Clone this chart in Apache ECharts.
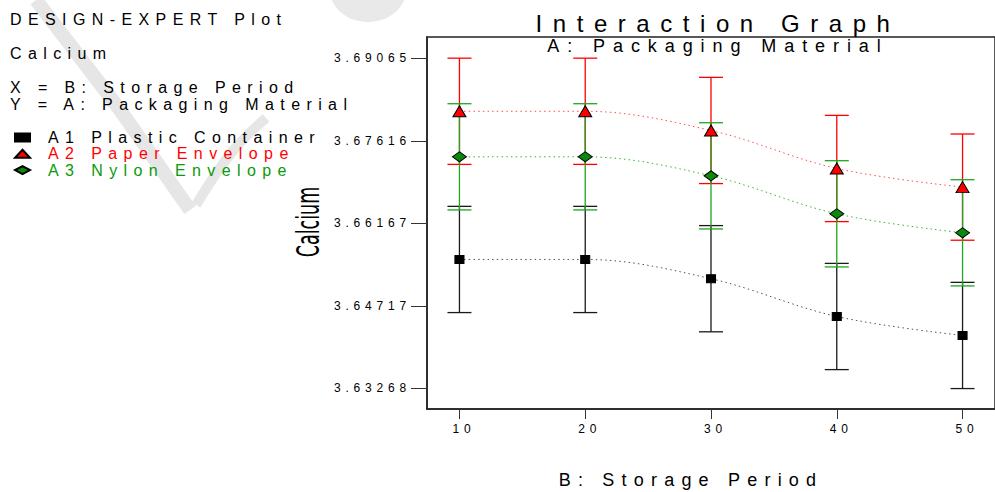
<!DOCTYPE html>
<html>
<head>
<meta charset="utf-8">
<title>Interaction Graph</title>
<script src="https://cdn.jsdelivr.net/npm/echarts@6/dist/echarts.min.js"></script>
<style>
  html, body { margin: 0; padding: 0; background: #fff; }
  #main { width: 995px; height: 492px; }
  /* Design-Expert prints its captions with wide letter spacing */
  #main text { letter-spacing: 0.4em; }
  #main text[style*="Arimo"], #main text[font-family*="Arimo"] { letter-spacing: 0.44em; }
  #main text[style*="Narrow"], #main text[font-family*="Narrow"] { letter-spacing: 0; }
</style>
</head>
<body>
<div id="main"></div>
<script>
// B: Storage Period (x) and Calcium means per packaging material
const storagePeriod = [10, 20, 30, 40, 50]
const plasticContainer = [3.65531, 3.65531, 3.65193, 3.64529, 3.64196]
const paperEnvelope = [3.68134, 3.68134, 3.67797, 3.67129, 3.66802]
const nylonEnvelope = [3.67334, 3.67334, 3.67000, 3.66333, 3.65999]
// half width of the LSD bars
const plasticErr = [0.00933, 0.00933, 0.00933, 0.00933, 0.00933]
const paperErr = [0.00933, 0.00933, 0.00933, 0.00933, 0.00933]
const nylonErr = [0.00933, 0.00933, 0.00933, 0.00933, 0.00933]
// tick labels
const xTickLabels = ['10', '20', '30', '40', '50']
const yTickLabels = ['3.63268', '3.64717', '3.66167', '3.67616', '3.69065']

const FONT = '"Liberation Sans", Arial, sans-serif'
const FONT_WIDE = '"Liberation Sans", Arimo, sans-serif'
const FONT_NARROW = '"Liberation Sans Narrow", "DejaVu Sans Condensed", sans-serif'

var myChart = echarts.init(document.getElementById('main'), null, { renderer: 'svg' })

function errorBars (name, values, errors, color) {
  return {
    name: name,
    type: 'custom',
    z: 2,
    silent: true,
    encode: { x: 0, y: [1, 2] },
    data: storagePeriod.map(function (x, i) {
      return [x, values[i] - errors[i], values[i] + errors[i]]
    }),
    renderItem: function (params, api) {
      const lo = api.coord([api.value(0), api.value(1)])
      const hi = api.coord([api.value(0), api.value(2)])
      const w = 12
      const style = { stroke: color, lineWidth: 1.3 }
      return {
        type: 'group',
        children: [
          { type: 'line', shape: { x1: hi[0], y1: hi[1], x2: lo[0], y2: lo[1] }, style: style },
          { type: 'line', shape: { x1: hi[0] - w, y1: hi[1], x2: hi[0] + w, y2: hi[1] }, style: style },
          { type: 'line', shape: { x1: lo[0] - w, y1: lo[1], x2: lo[0] + w, y2: lo[1] }, style: style }
        ]
      }
    }
  }
}

function meanLine (name, values, symbol, symbolSize, fill, lineColor) {
  return {
    name: name,
    type: 'line',
    z: 3,
    silent: true,
    smooth: 0.35,
    symbol: symbol,
    symbolSize: symbolSize,
    showAllSymbol: true,
    itemStyle: { color: fill, borderColor: '#000', borderWidth: 1 },
    lineStyle: { color: lineColor, width: 1, type: [1.5, 3.2] },
    data: storagePeriod.map(function (x, i) { return [x, values[i]] })
  }
}

function label (text, x, y, size, align, font) {
  return {
    type: 'text',
    x: x,
    y: y,
    z: 10,
    style: {
      text: text,
      fontSize: size,
      fontFamily: font || FONT,
      fill: '#000',
      align: align || 'left',
      verticalAlign: 'middle'
    }
  }
}

var option = {
  animation: false,
  backgroundColor: '#fff',
  grid: {
    left: 427,
    top: 37,
    width: 578,
    height: 372,
    show: true,
    borderColor: '#222',
    borderWidth: 1.5
  },
  legend: {
    orient: 'vertical',
    left: 14,
    top: 129.4,
    padding: 0,
    itemWidth: 15,
    itemHeight: 8,
    itemGap: 0,
    selectedMode: false,
    textStyle: { fontSize: 16, fontFamily: FONT, lineHeight: 16.25, padding: [0, 0, 0, 13] },
    data: [
      { name: 'A1 Plastic Container', icon: 'rect', textStyle: { color: '#000' } },
      { name: 'A2 Paper Envelope', icon: 'triangle', textStyle: { color: '#ff0000' } },
      { name: 'A3 Nylon Envelope', icon: 'diamond', textStyle: { color: '#0a9a0a' } }
    ]
  },
  xAxis: {
    type: 'value',
    min: 7.42,
    max: 52.58,
    splitLine: { show: false },
    axisLine: { show: true, onZero: false, lineStyle: { color: '#222', width: 1.5 } },
    axisTick: {
      show: true,
      length: 10,
      customValues: xTickLabels.map(Number),
      lineStyle: { color: '#333' }
    },
    axisLabel: {
      customValues: xTickLabels.map(Number),
      margin: 14,
      padding: [0, 0, 0, 9],
      fontSize: 12,
      fontFamily: FONT,
      color: '#000'
    }
  },
  yAxis: {
    type: 'value',
    min: 3.62904,
    max: 3.69439,
    splitLine: { show: false },
    axisLine: { show: true, onZero: false, lineStyle: { color: '#222', width: 1.5 } },
    axisTick: {
      show: true,
      length: 16,
      customValues: yTickLabels.map(Number),
      lineStyle: { color: '#333' }
    },
    axisLabel: {
      customValues: yTickLabels.map(Number),
      formatter: function (v) {
        return yTickLabels.find(function (s) { return Math.abs(Number(s) - v) < 1e-6 }) || String(v)
      },
      margin: 16,
      fontSize: 12,
      fontFamily: FONT,
      color: '#000'
    }
  },
  graphic: [
    // faint watermark of the source page
    { type: 'polyline', z: -5, silent: true, shape: { points: [[36, 0], [120, 110], [190, 210]] }, style: { stroke: '#e6e6e6', lineWidth: 14, fill: null } },
    { type: 'polyline', z: -5, silent: true, shape: { points: [[266, 118], [232, 152], [196, 205]], smooth: 0.4 }, style: { stroke: '#e6e6e6', lineWidth: 10, fill: null } },
    { type: 'ellipse', z: -5, silent: true, shape: { cx: 368, cy: -10, rx: 38, ry: 32 }, style: { fill: '#e9e9e9' } },
    label('DESIGN-EXPERT Plot', 10, 19.5, 16),
    label('Calcium', 10, 53.5, 16),
    label('X = B: Storage Period', 10, 87, 16),
    label('Y = A: Packaging Material', 10, 104, 16),
    label('Interaction Graph', 718, 23, 24, 'center', FONT_WIDE),
    label('A: Packaging Material', 718, 46, 18, 'center', FONT_WIDE),
    label('B: Storage Period', 691, 480, 18, 'center'),
    // y axis title, printed tall and condensed
    {
      type: 'text',
      x: 308,
      y: 222,
      rotation: Math.PI / 2,
      scaleX: 0.61,
      z: 10,
      style: {
        text: 'Calcium',
        fontSize: 32,
        fontFamily: FONT_NARROW,
        fill: '#000',
        align: 'center',
        verticalAlign: 'middle'
      }
    }
  ],
  series: [
    errorBars('A1 bars', plasticContainer, plasticErr, '#1a1a1a'),
    errorBars('A2 bars', paperEnvelope, paperErr, '#ff0000'),
    errorBars('A3 bars', nylonEnvelope, nylonErr, '#1fa51f'),
    meanLine('A1 Plastic Container', plasticContainer, 'rect', [9, 8], '#000', '#555'),
    meanLine('A2 Paper Envelope', paperEnvelope, 'triangle', [13, 11], '#ff0000', '#ff5050'),
    meanLine('A3 Nylon Envelope', nylonEnvelope, 'diamond', [14, 10], '#0a8a0a', '#3ab53a')
  ]
}

myChart.setOption(option)
</script>
</body>
</html>
